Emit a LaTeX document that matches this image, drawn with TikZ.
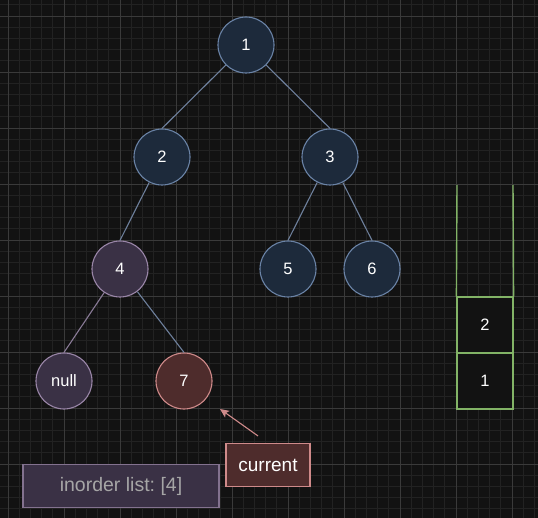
\documentclass[tikz,border=0pt]{standalone}
\usepackage{fontspec}
\setmainfont{Liberation Sans}
\usetikzlibrary{arrows.meta}
\frenchspacing
\definecolor{bg}{HTML}{121212}
\definecolor{gridminor}{HTML}{222222}
\definecolor{gridmajor}{HTML}{3A3A3A}
\definecolor{bluefill}{HTML}{1D2A3B}
\definecolor{bluedraw}{HTML}{6A83A6}
\definecolor{bluelink}{HTML}{6E809C}
\definecolor{purpfill}{HTML}{3A3145}
\definecolor{purpdraw}{HTML}{9A86A8}
\definecolor{purplink}{HTML}{897A96}
\definecolor{redfill}{HTML}{4E2C2C}
\definecolor{reddraw}{HTML}{CF8A8A}
\definecolor{stackgreen}{HTML}{82B366}
\definecolor{greytext}{HTML}{A6A6A6}
\tikzset{
  treenode/.style={circle,minimum size=56pt,inner sep=0pt,line width=1.1pt,text=white,font=\fontsize{16.5}{19}\selectfont},
  bnode/.style={treenode,fill=bluefill,draw=bluedraw},
  pnode/.style={treenode,fill=purpfill,draw=purpdraw},
  rnode/.style={treenode,fill=redfill,draw=reddraw},
  link/.style={draw=bluelink,line width=1.1pt},
  plink/.style={draw=purplink,line width=1.1pt},
  stackcell/.style={rectangle,minimum width=56pt,minimum height=56pt,inner sep=0pt,draw=stackgreen,line width=1.2pt,fill=bg,text=white,font=\fontsize{16.5}{19}\selectfont},
  stackside/.style={draw=stackgreen,line width=1.4pt},
}
\begin{document}
\begin{tikzpicture}[x=1pt,y=-1pt]
\useasboundingbox (0,0) rectangle (538,518);
\fill[bg] (0,0) rectangle (538,518);
\begin{scope}
\clip (0,0) rectangle (538,518);
\foreach \i in {-1,...,49} {
  \pgfmathsetmacro{\gx}{8+11.2*\i}
  \draw[gridminor,line width=0.7pt] (\gx,0) -- (\gx,518);
}
\foreach \i in {-2,...,47} {
  \pgfmathsetmacro{\gy}{16+11.2*\i}
  \draw[gridminor,line width=0.7pt] (0,\gy) -- (538,\gy);
}
\foreach \i in {0,...,9} {
  \pgfmathsetmacro{\gx}{8+56*\i}
  \draw[gridmajor,line width=0.9pt] (\gx,0) -- (\gx,518);
}
\foreach \i in {0,...,9} {
  \pgfmathsetmacro{\gy}{16+56*\i}
  \draw[gridmajor,line width=0.9pt] (0,\gy) -- (538,\gy);
}
\end{scope}

\node[bnode] (n1) at (246,45) {1};
\node[bnode] (n2) at (162,157) {2};
\node[bnode] (n3) at (330,157) {3};
\node[pnode] (n4) at (120,269) {4};
\node[bnode] (n5) at (288,269) {5};
\node[bnode] (n6) at (372,269) {6};
\node[pnode] (nnull) at (64,381) {null};
\node[rnode] (n7) at (184,381) {7};

\draw[link] (n1) -- (n2.north);
\draw[link] (n1) -- (n3.north);
\draw[link] (n2) -- (n4.north);
\draw[link] (n3) -- (n5.north);
\draw[link] (n3) -- (n6.north);
\draw[plink] (n4) -- (nnull.north);
\draw[link] (n4) -- (n7.north);

% stack
\node[stackcell] (c2) at (485,325) {2};
\node[stackcell] (c1) at (485,381) {1};
\coordinate (stl) at (457,185);
\coordinate (str) at (513,185);
\draw[stackside] (stl) -- (c2.north west);
\draw[stackside] (str) -- (c2.north east);

% labels
\node[rectangle,minimum width=84pt,minimum height=43pt,inner sep=0pt,fill=redfill,draw=reddraw,line width=1.1pt,text=white,font=\fontsize{19}{22}\selectfont] (cur) at (268,465) {current};
\node[rectangle,minimum width=196pt,minimum height=43pt,inner sep=0pt,fill=purpfill,draw=purpdraw!85!black,line width=1.1pt,text=greytext,font=\fontsize{19.5}{23}\selectfont] (inord) at (121,486) {inorder list: [4]};
\coordinate (tip) at (220,409);
\draw[draw=reddraw,line width=1.1pt,-{Stealth[length=9pt,width=8pt,inset=2pt]}] ([shift={(-10,-7)}]cur.north) -- (tip);
\end{tikzpicture}
\end{document}
